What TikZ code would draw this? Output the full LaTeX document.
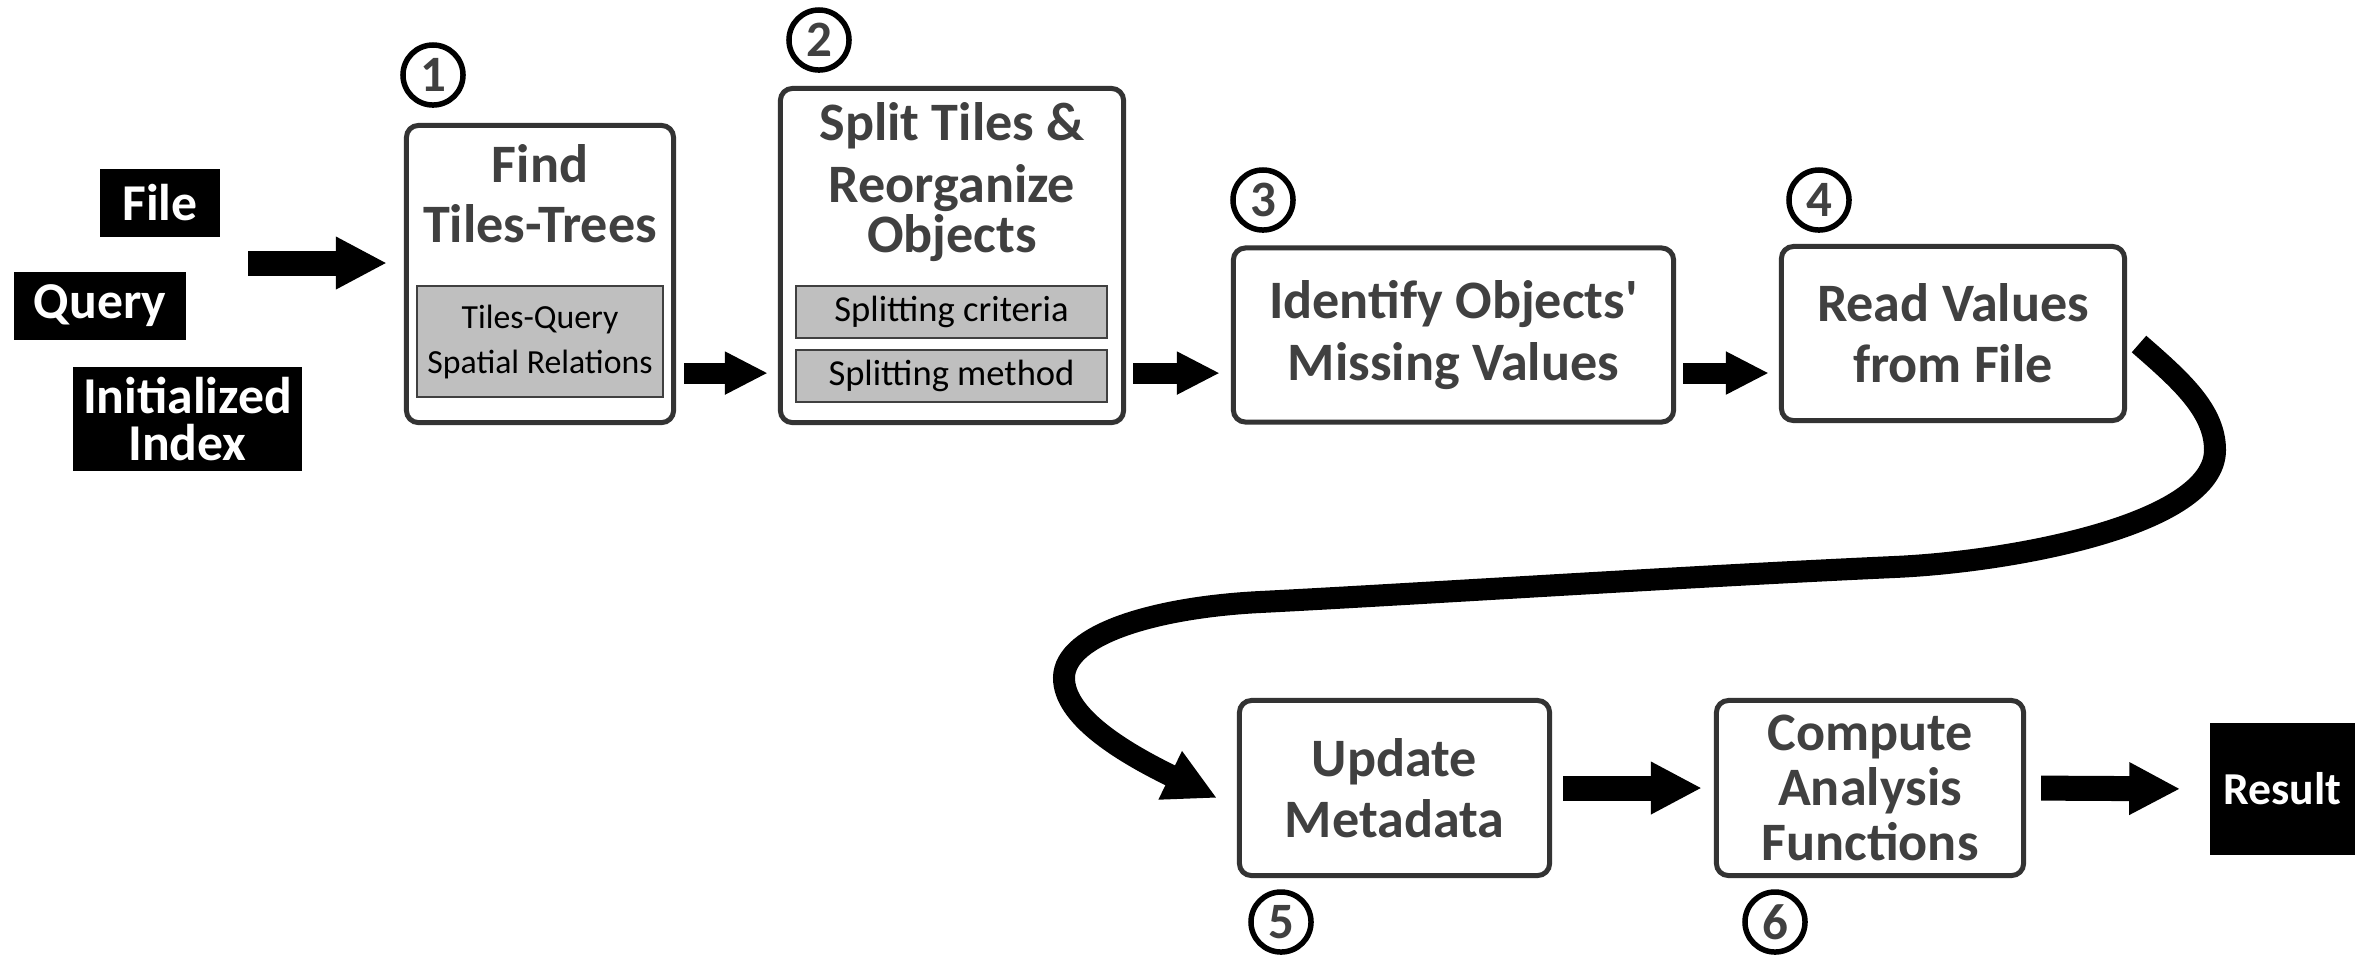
\documentclass[tikz,border=0pt]{standalone}
\usepackage{fontspec}
\setmainfont{Carlito}
\usetikzlibrary{arrows.meta}

\definecolor{txtgray}{HTML}{404040}
\definecolor{boxline}{HTML}{333333}
\definecolor{subfill}{HTML}{BFBFBF}

\newcommand{\stepfont}{\fontsize{15.4}{17.4}\selectfont\bfseries}
\newcommand{\subfont}{\fontsize{9.6}{12.8}\selectfont}
\newcommand{\splitfont}{\fontsize{10.4}{12.8}\selectfont}
\newcommand{\datafont}{\fontsize{14.7}{13.4}\selectfont\bfseries}
\newcommand{\numfont}{\fontsize{14.5}{16}\selectfont\bfseries}

\tikzset{
  stepbox/.style={draw=boxline, line width=0.05cm, rounded corners=0.12cm, fill=white,
    text=txtgray, font=\stepfont, align=center, inner sep=0pt},
  steptitle/.style={text=txtgray, font=\stepfont, align=center, inner sep=0pt},
  subbox/.style={draw=txtgray, line width=0.015cm, fill=subfill, font=\subfont,
    align=center, inner sep=0pt},
  databox/.style={fill=black, text=white, font=\datafont, align=center, inner sep=0pt},
  stepnum/.style={circle, draw=black, line width=0.055cm, minimum size=0.60cm,
    inner sep=0pt, text=txtgray, font=\numfont},
  bigarrow/.style={line width=0.25cm, -{Triangle[length=0.51cm, width=0.49cm]}},
  smallarrow/.style={line width=0.21cm, -{Triangle[length=0.43cm, width=0.40cm]}},
  looparrow/.style={line width=0.22cm, -{Triangle[length=0.52cm, width=0.50cm]}}
}

\begin{document}
\begin{tikzpicture}[x=0.01cm,y=-0.01cm]
\useasboundingbox (0,0) rectangle (2369,956);

\node[databox, minimum width=1.20cm, minimum height=0.68cm] (file) at (160,203) {File};
\node[databox, minimum width=1.72cm, minimum height=0.68cm] (query) at (100,306) {Query};
\node[databox, minimum width=2.29cm, minimum height=1.04cm] (index) at (187.5,419) {Initialized\\Index};

\node[stepbox, minimum width=2.67cm, minimum height=2.97cm] (b1) at (540,274) {};
\node[steptitle, font=\fontsize{15.4}{17.1}\selectfont\bfseries] (t1) at (540,194) {Find\\Tiles-Trees};
\node[subbox, minimum width=2.46cm, minimum height=1.11cm] (s1) at (540,341.5) {Tiles-Query\\Spatial Relations};
\node[stepnum] (n1) at (433,75) {1};

\node[stepbox, minimum width=3.43cm, minimum height=3.34cm] (b2) at (952,255.5) {};
\node[steptitle, font=\fontsize{15.4}{14.2}\selectfont\bfseries] (t2) at (952,182) {Split Tiles \&\\[3.4pt]Reorganize\\Objects};
\node[subbox, font=\splitfont, minimum width=3.11cm, minimum height=0.52cm] (s2a) at (951.5,312) {Splitting criteria};
\node[subbox, font=\splitfont, minimum width=3.11cm, minimum height=0.52cm] (s2b) at (951.5,376) {Splitting method};
\node[stepnum] (n2) at (819,40) {2};

\node[stepbox, font=\fontsize{15.4}{17.6}\selectfont\bfseries, minimum width=4.40cm, minimum height=1.74cm] (b3) at (1453.5,335) {Identify Objects\textquotesingle\\Missing Values};
\node[stepnum] (n3) at (1263,200) {3};

\node[stepbox, minimum width=3.43cm, minimum height=1.74cm] (b4) at (1953,333.5) {Read Values\\from File};
\node[stepnum] (n4) at (1819,200) {4};

\node[stepbox, minimum width=3.10cm, minimum height=1.75cm] (b5) at (1394.5,788) {Update\\Metadata};
\node[stepnum] (n5) at (1281,922) {5};

\node[stepbox, font=\fontsize{15.4}{15.6}\selectfont\bfseries, minimum width=3.07cm, minimum height=1.75cm] (b6) at (1870,788) {Compute\\Analysis\\Functions};
\node[stepnum] (n6) at (1775,922) {6};

\node[databox, font=\fontsize{13}{15}\selectfont\bfseries, minimum width=1.45cm, minimum height=1.32cm] (result) at (2282.5,789) {Result};

\coordinate (feed) at (248,263);
\coordinate (r12) at ([yshift=0.52cm]b1.south east);
\coordinate (r23) at ([yshift=0.52cm]b2.south east);
\coordinate (r34) at ([yshift=0.515cm]b3.south east);
\coordinate (loop out) at (2139,344);
\coordinate (loop in) at (1217,798);

\draw[bigarrow, shorten >=0.17cm] (feed) -- (feed -| b1.west);
\draw[smallarrow, shorten <=0.08cm, shorten >=0.10cm] (r12) -- (r12 -| b2.west);
\draw[smallarrow, shorten <=0.07cm, shorten >=0.11cm] (r23) -- (r23 -| b3.west);
\draw[smallarrow, shorten <=0.07cm, shorten >=0.10cm] (r34) -- (r34 -| b4.west);
\draw[looparrow] (loop out) .. controls (2179,379) and (2215,410) .. (2215,450)
  .. controls (2215,525) and (2010,562) .. (1894,567)
  .. controls (1694,576) and (1400,595) .. (1260,602)
  .. controls (1160,607) and (1064,633) .. (1064,678)
  .. controls (1064,715) and (1118,750) .. (loop in);
\draw[bigarrow, shorten <=0.11cm, shorten >=0.12cm] (b5.east) -- (b6.west);
\draw[bigarrow, shorten <=0.15cm, shorten >=0.29cm] (b6.east) -- (result.west);
\end{tikzpicture}
\end{document}
